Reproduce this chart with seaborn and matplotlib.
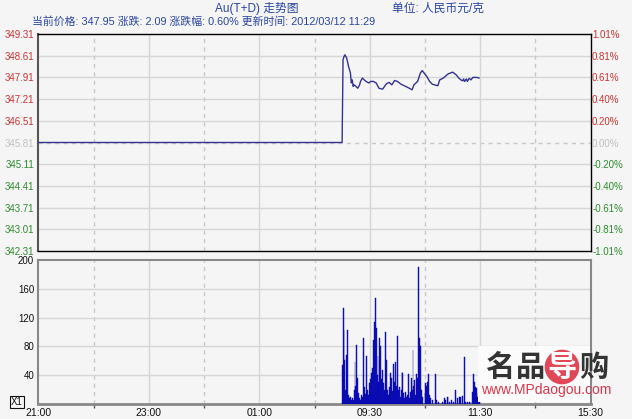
import numpy as np
import pandas as pd
import matplotlib
matplotlib.use("Agg")
import matplotlib.pyplot as plt
import seaborn as sns

# ---------------- data ----------------
title_text = "Au(T+D) 走势图"
unit_text = "单位: 人民币元/克"
info_text = "当前价格: 347.95 涨跌: 2.09 涨跌幅: 0.60% 更新时间: 2012/03/12 11:29"

prev_close = 345.81
price_ticks = [349.31, 348.61, 347.91, 347.21, 346.51, 345.81, 345.11, 344.41, 343.71, 343.01, 342.31]
price_tick_labels = ["349.31", "348.61", "347.91", "347.21", "346.51", "345.81",
                     "345.11", "344.41", "343.71", "343.01", "342.31"]
pct_tick_labels = ["1.01%", "0.81%", "0.61%", "0.40%", "0.20%", "0.00%",
                   "-0.20%", "-0.40%", "-0.61%", "-0.81%", "-1.01%"]

# session minutes since 21:00 (night 21:00-02:30, day 09:00-11:30, 13:30-15:30)
time_ticks = [0, 120, 240, 360, 480, 600]
time_labels = ["21:00", "23:00", "01:00", "09:30", "11:30", "15:30"]

price_minutes = [0, 330, 331, 332, 333, 335, 337, 339, 340, 341, 342, 343, 345, 347, 349, 350,
                 352, 354, 356, 359, 361, 364, 367, 370, 374, 378, 381, 384, 387, 390, 394, 399,
                 403, 406, 408, 412, 415, 417, 419, 422, 425, 428, 434, 436, 440, 445, 450, 454,
                 457, 459, 461, 462, 463, 465, 466, 468, 470, 472, 476, 479]
price_values = [345.81, 345.81, 348.48, 348.58, 348.64, 348.53, 348.26, 348.06, 347.73, 347.83,
                347.62, 347.67, 347.62, 347.56, 347.67, 347.78, 347.89, 347.83, 347.78, 347.73,
                347.78, 347.78, 347.73, 347.56, 347.53, 347.70, 347.75, 347.67, 347.81, 347.78,
                347.69, 347.62, 347.56, 347.51, 347.67, 347.78, 348.05, 348.13, 348.05, 347.94,
                347.78, 347.69, 347.64, 347.83, 347.89, 348.02, 348.08, 347.99, 347.88, 347.83,
                347.80, 347.86, 347.78, 347.86, 347.78, 347.88, 347.83, 347.91, 347.91, 347.89]

vol_start = 330
volumes = [54, 133, 103, 61, 20, 68, 103, 12, 8, 10,
           6, 9, 5, 19, 59, 25, 82, 36, 15, 8,
           6, 12, 10, 92, 24, 14, 66, 18, 19, 12,
           29, 35, 43, 50, 89, 114, 147, 105, 40, 66,
           30, 92, 80, 35, 47, 29, 20, 100, 61, 20,
           12, 24, 15, 43, 36, 18, 56, 30, 59, 25,
           94, 20, 24, 10, 19, 45, 43, 15, 8, 17,
           10, 12, 41, 8, 17, 36, 20, 75, 25, 33,
           12, 41, 36, 190, 92, 80, 20, 10, 0, 0,
           15, 29, 25, 31, 41, 12, 8, 0, 6, 0,
           0, 41, 0, 6, 0, 3, 0, 0, 0, 3,
           0, 8, 5, 0, 10, 10, 0, 3, 0, 6,
           0, 3, 0, 20, 0, 8, 0, 10, 5, 10,
           0, 11, 0, 65, 3, 0, 3, 0, 3, 0,
           3, 0, 17, 41, 30, 24, 22, 10, 15, 3]
vol_ticks = [40, 80, 120, 160, 200]
vol_tick_labels = ["40", "80", "120", "160", "200"]

# ---------------- style ----------------
sns.set_theme(style="white")
plt.rcParams['font.family'] = ['Liberation Sans', 'Noto Sans CJK SC', 'DejaVu Sans']

BG = "#f5f5f5"
GRID = "#d6d6d6"
RED = "#cc3333"
GREEN = "#2e8b2e"
GREYTXT = "#c0c0c0"
HEAD = "#2a46a0"

fig = plt.figure(figsize=(6.32, 4.19), dpi=100, facecolor=BG)
W, H = 632.0, 419.0
def ax_rect(x0, y0, x1, y1):
    return [x0 / W, 1 - y1 / H, (x1 - x0) / W, (y1 - y0) / H]

ax1 = fig.add_axes(ax_rect(38.3, 34, 590.7, 251))
ax2 = fig.add_axes(ax_rect(38.3, 260, 590.7, 404))
for ax in (ax1, ax2):
    ax.set_facecolor(BG)
    ax.set_xlim(0, 600)

# ---- price panel ----
ax1.set_ylim(price_ticks[-1], price_ticks[0])
for v in price_ticks[1:-1]:
    if abs(v - prev_close) < 1e-6:
        ax1.axhline(v, color="#c8c8c8", lw=1, ls=(0, (3, 3)), zorder=1)
    else:
        ax1.axhline(v, color=GRID, lw=1, zorder=1)
for t in [120, 240, 360, 480]:
    ax1.axvline(t, color=GRID, lw=1, zorder=1)
    ax2.axvline(t, color=GRID, lw=1, zorder=1)
for t in [60, 180, 300, 420, 540]:
    ax1.axvline(t, color="#c8c8c8", lw=1, ls=(0, (3, 3)), zorder=1)
    ax2.axvline(t, color="#c8c8c8", lw=1, ls=(0, (3, 3)), zorder=1)

price_df = pd.DataFrame({"minute": price_minutes, "price": price_values})
sns.lineplot(data=price_df, x="minute", y="price", ax=ax1, color="#33338f", lw=1.0,
             estimator=None, sort=False, zorder=3)
ax1.set_xlim(0, 600)
ax1.set_xlabel("")
ax1.set_ylabel("")
ax1.set_xticks([])
ax1.set_yticks(price_ticks)
ax1.set_yticklabels(price_tick_labels)
ax1.tick_params(axis="y", length=0, pad=3, labelsize=7)
for lab, v in zip(ax1.get_yticklabels(), price_ticks):
    lab.set_color(RED if v > prev_close + 1e-6 else (GREEN if v < prev_close - 1e-6 else GREYTXT))
for s in ax1.spines.values():
    s.set_color("#000000")
    s.set_linewidth(1.0)
ax1.spines["left"].set_color("#555555")
ax1.spines["left"].set_linewidth(1.5)

axr = ax1.twinx()
axr.set_ylim(price_ticks[-1], price_ticks[0])
axr.set_yticks(price_ticks)
axr.set_yticklabels(pct_tick_labels)
axr.tick_params(axis="y", length=0, pad=1, labelsize=7)
for lab, v in zip(axr.get_yticklabels(), price_ticks):
    lab.set_color(RED if v > prev_close + 1e-6 else (GREEN if v < prev_close - 1e-6 else GREYTXT))
for s in axr.spines.values():
    s.set_visible(False)

# ---- volume panel ----
ax2.set_ylim(0, 200)
for v in vol_ticks[:-1]:
    ax2.axhline(v, color=GRID, lw=1, zorder=1)
vol_df = pd.DataFrame({"minute": np.arange(vol_start, vol_start + len(volumes)), "volume": volumes})
sns.barplot(data=vol_df, x="minute", y="volume", native_scale=True, ax=ax2,
            color="#1a1acc", width=1.0, linewidth=0.3, edgecolor="#0000a0",
            errorbar=None, saturation=1, zorder=3)
ax2.set_xlim(0, 600)
ax2.set_ylim(0, 200)
ax2.set_xlabel("")
ax2.set_ylabel("")
ax2.set_yticks(vol_ticks)
ax2.set_yticklabels(vol_tick_labels)
ax2.set_xticks(time_ticks)
ax2.set_xticklabels(time_labels)
ax2.set_xticks([60, 180, 300, 420, 540], minor=True)
ax2.tick_params(axis="y", length=0, pad=3, labelsize=7, labelcolor="#111111")
ax2.tick_params(axis="x", which="major", length=0, pad=3, labelsize=7.5, labelcolor="#111111")
ax2.tick_params(axis="x", which="minor", length=3, width=1, color="#555555", direction="out",
                bottom=True)
for s in ax2.spines.values():
    s.set_color("#888888")
    s.set_linewidth(1.5)
ax2.spines["bottom"].set_linewidth(2)

# ---- header ----
fig.text(257 / W, 1 - 8.5 / H, title_text, ha="center", va="center", fontsize=8.5, color=HEAD)
fig.text(438 / W, 1 - 8.5 / H, unit_text, ha="center", va="center", fontsize=8.5, color=HEAD)
fig.text(32 / W, 1 - 21.5 / H, info_text, ha="left", va="center", fontsize=7.8, color=HEAD)

# "X1" box
fig.text(17 / W, 1 - 402 / H, "X1", ha="center", va="center", fontsize=7, color="#111111",
         bbox=dict(boxstyle="square,pad=0.15", fc="none", ec="#111111", lw=0.8))

# ---- watermark ----
fig.patches.append(matplotlib.patches.Rectangle((478 / W, 1 - 402 / H), 112 / W, 56 / H,
                                                transform=fig.transFigure, fc="#fbfbfb",
                                                ec="none", zorder=5))
wm_kw = dict(ha="center", va="center", fontsize=21, fontweight="bold",
             family=["Noto Sans CJK SC"], zorder=6)
fig.text(500 / W, 1 - 367 / H, "名", color="#333333", **wm_kw)
fig.text(531 / W, 1 - 367 / H, "品", color="#333333", **wm_kw)
fig.text(562 / W, 1 - 367 / H, "导", color="white",
         bbox=dict(boxstyle="circle,pad=0.08", fc="#e04858", ec="none"), **wm_kw)
fig.text(594 / W, 1 - 367 / H, "购", color="#333333", **wm_kw)
fig.text(546 / W, 1 - 390 / H, "www.MPdaogou.com", ha="center", va="center", fontsize=10,
         color="#d8384c", zorder=6)

fig.savefig("out.png", dpi=100, facecolor=BG)
